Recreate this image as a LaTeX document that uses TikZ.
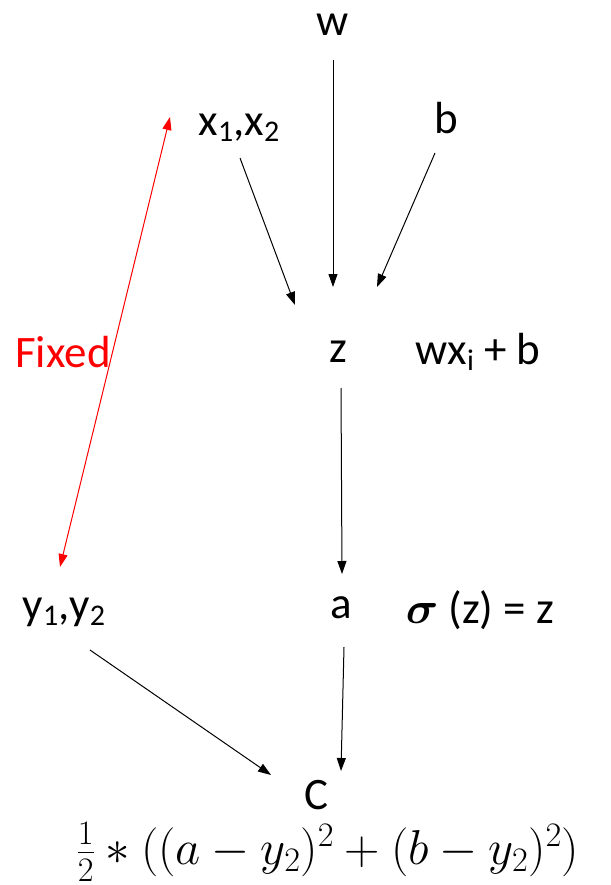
\RequirePackage{fix-cm}
\documentclass[tikz,border=0pt]{standalone}
\usepackage{fontspec}
\usepackage{amsmath,bm}
\setmainfont{Carlito}
\usetikzlibrary{arrows.meta}
\newcommand{\lowsub}[1]{\raisebox{-0.28ex}{\fontsize{30}{30}\selectfont #1}}
\begin{document}
\begin{tikzpicture}[x=1pt,y=-1pt,
  lbl/.style={font=\fontsize{45}{50}\selectfont, inner sep=0pt},
  arr/.style={line width=1pt, -{Triangle[length=13pt,width=9pt]}},
  redarr/.style={line width=1pt, red, {Triangle[length=13pt,width=9pt]}-{Triangle[length=13pt,width=9pt]}}]
\useasboundingbox (0,0) rectangle (610,885);
\node[lbl] (w) at (333,25) {w};
\node[lbl] (x) at (239,128) {x\lowsub{1},x\lowsub{2}};
\node[lbl] (b) at (446,118) {b};
\node[lbl] (z) at (338,352) {z};
\node[lbl] (zf) at (478,352) {wx\lowsub{i} + b};
\node[lbl, text=red] (fixed) at (63,352) {Fixed};
\node[lbl] (y) at (64,612) {y\lowsub{1},y\lowsub{2}};
\node[lbl] (a) at (341,608) {a};
\node[lbl] (af) at (480,610) {$\bm{\sigma}$ (z) = z};
\node[lbl] (C) at (316,795) {C};
\node[inner sep=0pt, font=\fontsize{49}{54}\selectfont] (cf) at (328,852) {$\frac{1}{2}*((a-y_2)^2+(b-y_2)^2)$};
\coordinate (w1) at (333,60); \coordinate (z1) at (333,287);
\coordinate (x1) at (240,158); \coordinate (z2) at (295,305);
\coordinate (b1) at (435,153); \coordinate (z3) at (377,287);
\coordinate (z4) at (341,388); \coordinate (a1) at (342,574);
\coordinate (a2) at (344,647); \coordinate (c1) at (341,771);
\coordinate (y1) at (90,650); \coordinate (c2) at (271,775);
\coordinate (xr) at (170,117); \coordinate (yr) at (60,567);
\draw[arr] (w1) -- (z1);
\draw[arr] (x1) -- (z2);
\draw[arr] (b1) -- (z3);
\draw[arr] (z4) -- (a1);
\draw[arr] (a2) -- (c1);
\draw[arr] (y1) -- (c2);
\draw[redarr] (xr) -- (yr);
\end{tikzpicture}
\end{document}
